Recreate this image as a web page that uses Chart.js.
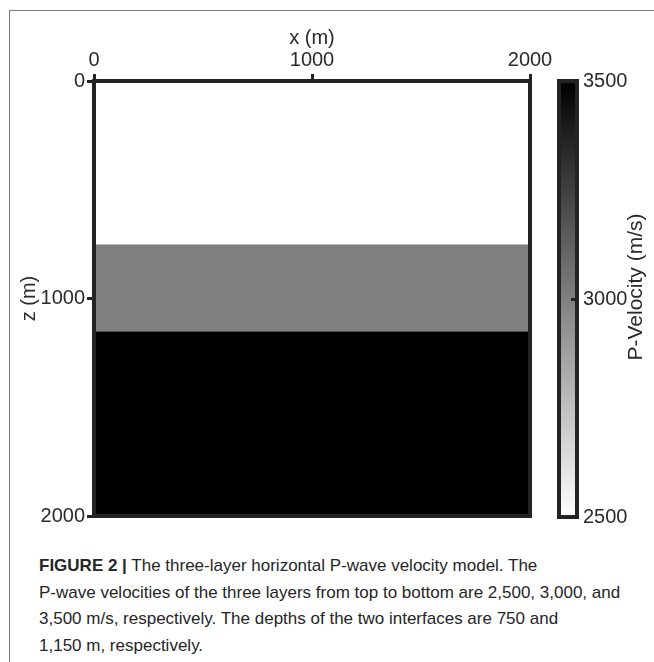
<!DOCTYPE html>
<html>
<head>
<meta charset="utf-8">
<title>Three-layer P-wave velocity model</title>
<script src="https://cdn.jsdelivr.net/npm/chart.js@4.4.1/dist/chart.umd.min.js"></script>
<style>
  html, body { margin: 0; padding: 0; background: #fff; }
  #page { position: relative; width: 654px; height: 662px; overflow: hidden;
          font-family: "Liberation Sans", Arial, Helvetica, sans-serif; }
  #frame { position: absolute; left: 9px; top: 10px; right: -2px; bottom: -2px;
           border-top: 1px solid #7a7a7a; border-left: 1px solid #7a7a7a; }
  #model { position: absolute; left: 0; top: 0; }
  #cbar  { position: absolute; left: 540px; top: 0; }
  #caption { position: absolute; left: 39px; top: 553px; font-size: 17px; line-height: 26.5px;
             color: #262626; white-space: nowrap; }
  #caption b { font-weight: bold; }
</style>
</head>
<body>
<div id="page">
  <div id="frame"></div>
  <canvas id="model" width="654" height="540"></canvas>
  <canvas id="cbar" width="114" height="540"></canvas>
  <div id="caption">
    <b>FIGURE 2 |</b> The three-layer horizontal P-wave velocity model. The<br>
    P-wave velocities of the three layers from top to bottom are 2,500, 3,000, and<br>
    3,500 m/s, respectively. The depths of the two interfaces are 750 and<br>
    1,150 m, respectively.
  </div>
</div>
<script>
// Model geometry and properties
const xRange = [0, 2000];                 // lateral extent (m)
const xTicks = [0, 1000, 2000];
const zTicks = [0, 1000, 2000];
const layerTops = [0, 750, 1150];         // depth of each layer top (m)
const layerBottoms = [750, 1150, 2000];   // depth of each layer bottom (m)
const layerVelocities = [2500, 3000, 3500]; // P-wave velocity (m/s)
const velocityTicks = [2500, 3000, 3500];

const FONT = '"Liberation Sans", Arial, Helvetica, sans-serif';
const TEXT = '#2a2a2a';
const EDGE = '#232323';

// Plot-area box inside the model canvas
const PLOT = { left: 94, top: 81, right: 530, bottom: 516 };
// Colour-bar box (page coordinates) and its canvas offset
const CBAR_X0 = 540;
const CBAR = { left: 559, top: 81, right: 577, bottom: 517 };

const vMin = velocityTicks[0];
const vMax = velocityTicks[velocityTicks.length - 1];

// Linear grey colormap: low velocity white, high velocity black
function grayFor(v) {
  const t = Math.min(1, Math.max(0, (v - vMin) / (vMax - vMin)));
  const c = Math.round(255 * (1 - t));
  return `rgb(${c},${c},${c})`;
}

const fixedTicks = list => scale => { scale.ticks = list.map(v => ({ value: v })); };
const plainNumber = v => String(v);

// Thick frame around a chart area
const framePlugin = {
  id: 'frame',
  afterDraw(chart, args, opts) {
    const { ctx, chartArea: a } = chart;
    ctx.save();
    ctx.strokeStyle = EDGE;
    ctx.lineWidth = opts.width || 4;
    ctx.strokeRect(a.left, a.top, a.right - a.left, a.bottom - a.top);
    ctx.restore();
  }
};

// ---- Velocity model: each layer is filled between its top and bottom depth lines
const layerDatasets = layerBottoms.map((zb, i) => ({
  label: `Layer ${i + 1}`,
  data: xRange.map(x => ({ x, y: zb })),
  fill: i === 0 ? { value: layerTops[0] } : '-1',
  backgroundColor: grayFor(layerVelocities[i]),
  borderColor: 'transparent',
  borderWidth: 0,
  pointRadius: 0,
  tension: 0
}));

new Chart(document.getElementById('model'), {
  type: 'line',
  data: { datasets: layerDatasets },
  plugins: [framePlugin],
  options: {
    responsive: false,
    animation: false,
    events: [],
    layout: { padding: { left: 0, top: 0, right: 654 - PLOT.right, bottom: 540 - PLOT.bottom } },
    plugins: { legend: { display: false }, tooltip: { enabled: false }, frame: { width: 4 } },
    scales: {
      x: {
        type: 'linear', position: 'top',
        min: xRange[0], max: xRange[1],
        afterBuildTicks: fixedTicks(xTicks),
        ticks: { font: { family: FONT, size: 20 }, color: TEXT, padding: 2, maxRotation: 0,
                 callback: plainNumber },
        grid: { drawOnChartArea: false, drawTicks: true, tickLength: 7, tickWidth: 3, tickColor: EDGE },
        border: { display: false },
        title: { display: true, text: 'x (m)', font: { family: FONT, size: 20 }, color: TEXT,
                 padding: { top: 26, bottom: 0 } },
        afterFit: s => { s.height = PLOT.top; }
      },
      y: {
        type: 'linear', position: 'left', reverse: true,
        min: zTicks[0], max: zTicks[zTicks.length - 1],
        afterBuildTicks: fixedTicks(zTicks),
        ticks: { font: { family: FONT, size: 20 }, color: TEXT, padding: 2, callback: plainNumber },
        grid: { drawOnChartArea: false, drawTicks: true, tickLength: 7, tickWidth: 3, tickColor: EDGE },
        border: { display: false },
        title: { display: true, text: 'z (m)', font: { family: FONT, size: 20 }, color: TEXT,
                 padding: { top: 17, bottom: 0 } },
        afterFit: s => { s.width = PLOT.left; }
      }
    }
  }
});

// ---- Colour bar
const cbarPlugin = {
  id: 'cbarDecor',
  afterDraw(chart) {
    const { ctx, chartArea: a, scales: { y } } = chart;
    ctx.save();
    // inner tick marks for the intermediate velocity ticks
    ctx.strokeStyle = EDGE;
    ctx.lineWidth = 3;
    velocityTicks.slice(1, -1).forEach(v => {
      const py = Math.round(y.getPixelForValue(v)) + 0.5;
      ctx.beginPath();
      ctx.moveTo(a.right - 6, py);
      ctx.lineTo(a.right - 1, py);
      ctx.stroke();
    });
    // axis title reading bottom-to-top
    ctx.fillStyle = TEXT;
    ctx.font = `21px ${FONT}`;
    ctx.textAlign = 'center';
    ctx.textBaseline = 'middle';
    ctx.translate(636 - CBAR_X0, 287);
    ctx.rotate(-Math.PI / 2);
    ctx.fillText('P-Velocity (m/s)', 0, 0);
    ctx.restore();
  }
};

new Chart(document.getElementById('cbar'), {
  type: 'bar',
  data: {
    labels: ['P-Velocity'],
    datasets: [{
      data: [[vMin, vMax]],
      backgroundColor: c => {
        const chart = c.chart;
        const ys = chart.scales && chart.scales.y;
        if (!chart.chartArea || !ys) return grayFor(vMax);
        const g = chart.ctx.createLinearGradient(0, ys.getPixelForValue(vMin), 0, ys.getPixelForValue(vMax));
        velocityTicks.forEach(v => g.addColorStop((v - vMin) / (vMax - vMin), grayFor(v)));
        return g;
      },
      borderWidth: 0,
      barPercentage: 1,
      categoryPercentage: 1
    }]
  },
  plugins: [framePlugin, cbarPlugin],
  options: {
    responsive: false,
    animation: false,
    events: [],
    layout: { padding: { left: CBAR.left - CBAR_X0, top: CBAR.top, right: 0, bottom: 540 - CBAR.bottom } },
    plugins: { legend: { display: false }, tooltip: { enabled: false }, frame: { width: 4 } },
    scales: {
      x: { display: false },
      y: {
        position: 'right',
        min: vMin, max: vMax,
        afterBuildTicks: fixedTicks(velocityTicks),
        ticks: { font: { family: FONT, size: 20 }, color: TEXT, padding: 6, callback: plainNumber },
        grid: { display: false, drawTicks: false },
        border: { display: false },
        afterFit: s => { s.width = 114 - (CBAR.right - CBAR_X0); }
      }
    }
  }
});
</script>
</body>
</html>
